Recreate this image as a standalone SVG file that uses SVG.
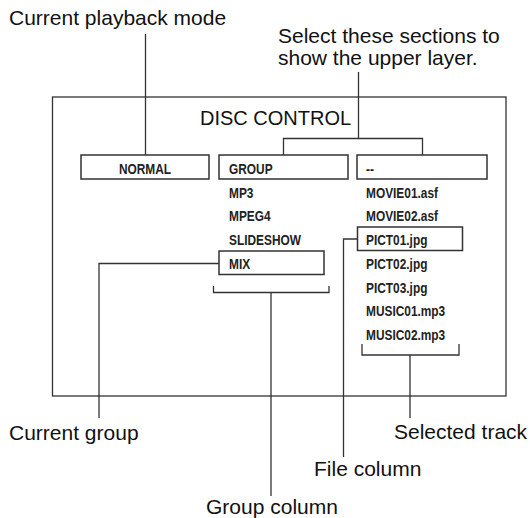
<svg xmlns="http://www.w3.org/2000/svg" width="530" height="518" viewBox="0 0 530 518">
<style>
.lbl{font-family:"Liberation Sans",Arial,sans-serif;font-size:21px;fill:#111}
.ttl{font-family:"Liberation Sans",Arial,sans-serif;font-size:20px;fill:#111}
.it{font-family:"Liberation Sans",Arial,sans-serif;font-weight:bold;font-size:14.5px;fill:#222}
.box{fill:#fff;stroke:#333;stroke-width:1.5}
.ln{fill:none;stroke:#333;stroke-width:1.3}
</style>
<rect width="530" height="518" fill="#fff"/>
<g id="frame"><rect x="52.5" y="97" width="453.5" height="299" class="ln"/></g>
<g id="connectors">
<path class="ln" d="M145.5 34V155"/>
<path class="ln" d="M358.5 72V138.5M283.5 155V138.5H422.5V155"/>
<path class="ln" d="M219 263.5H99V418"/>
<path class="ln" d="M357.5 239H343.5V457"/>
<path class="ln" d="M213.5 286V292.5H329V286M271 292.5V496"/>
<path class="ln" d="M362 344V355H459V344M410 355V418"/>
</g>
<g id="title"><text class="ttl" x="200" y="125">DISC CONTROL</text></g>
<g id="normal"><rect class="box" x="81" y="155" width="128" height="24"/><text class="it" transform="translate(145 173.5) scale(0.82 1)" text-anchor="middle">NORMAL</text></g>
<g id="group"><rect class="box" x="219" y="155" width="129" height="24"/><text class="it" transform="translate(229 173.5) scale(0.82 1)">GROUP</text></g>
<g id="dash"><rect class="box" x="357" y="155" width="130" height="24"/><text class="it" transform="translate(366 173.5) scale(0.82 1)">--</text></g>
<g id="mix"><rect class="box" x="219" y="251" width="105" height="23.5"/><text class="it" transform="translate(229 269) scale(0.82 1)">MIX</text></g>
<g id="pict01"><rect class="box" x="357.5" y="227" width="105" height="23.5"/><text class="it" transform="translate(366 245) scale(0.82 1)">PICT01.jpg</text></g>
<g id="groupcol">
<text class="it" transform="translate(229 197.5) scale(0.82 1)">MP3</text>
<text class="it" transform="translate(229 221) scale(0.82 1)">MPEG4</text>
<text class="it" transform="translate(229 245) scale(0.82 1)">SLIDESHOW</text>
</g>
<g id="filecol">
<text class="it" transform="translate(366 197.5) scale(0.82 1)">MOVIE01.asf</text>
<text class="it" transform="translate(366 221) scale(0.82 1)">MOVIE02.asf</text>
<text class="it" transform="translate(366 269) scale(0.82 1)">PICT02.jpg</text>
<text class="it" transform="translate(366 292.5) scale(0.82 1)">PICT03.jpg</text>
<text class="it" transform="translate(366 316) scale(0.82 1)">MUSIC01.mp3</text>
<text class="it" transform="translate(366 339.5) scale(0.82 1)">MUSIC02.mp3</text>
</g>
<g id="labels">
<text class="lbl" x="9" y="25">Current playback mode</text>
<text class="lbl" x="278" y="43">Select these sections to</text>
<text class="lbl" x="278" y="65">show the upper layer.</text>
<text class="lbl" x="9" y="440">Current group</text>
<text class="lbl" x="394" y="439">Selected track</text>
<text class="lbl" x="314" y="476">File column</text>
<text class="lbl" x="206" y="514">Group column</text>
</g>
</svg>
